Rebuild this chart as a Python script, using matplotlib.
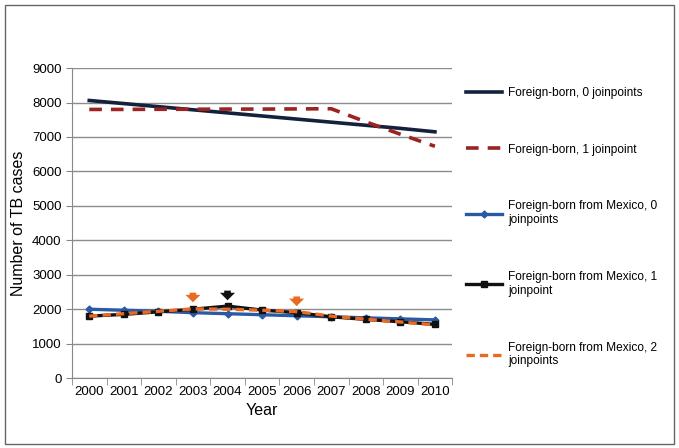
import matplotlib
matplotlib.use("Agg")
import matplotlib.pyplot as plt
from matplotlib.patches import Rectangle

plt.rcParams['font.family'] = ['Liberation Sans', 'DejaVu Sans']

# Data
years = [2000, 2001, 2002, 2003, 2004, 2005, 2006, 2007, 2008, 2009, 2010]
fb_0jp = [8060, 7970, 7880, 7790, 7700, 7610, 7520, 7430, 7340, 7250, 7150]
fb_1jp = [7800, 7800, 7805, 7805, 7810, 7810, 7815, 7820, 7440, 7080, 6730]
mex_0jp = [2000, 1970, 1940, 1900, 1870, 1840, 1810, 1780, 1750, 1720, 1690]
mex_1jp = [1800, 1850, 1925, 2000, 2090, 1975, 1900, 1780, 1705, 1635, 1560]
mex_2jp = [1800, 1870, 1940, 2010, 2000, 1970, 1930, 1800, 1710, 1630, 1545]

# joinpoint arrows: year, tip value, tail value, colour
arrow_years = [2003, 2004, 2006]
arrow_tips = [2200, 2260, 2090]
arrow_tails = [2480, 2540, 2370]
arrow_colors = ['#ea6a22', '#111111', '#ea6a22']

fig = plt.figure(figsize=(6.79, 4.48), dpi=100)
ax = fig.add_axes([0.106, 0.156, 0.56, 0.692])

x = list(range(len(years)))
ax.plot(x, fb_0jp, color='#14213d', lw=2.6, label='Foreign-born, 0 joinpoints')
ax.plot(x, fb_1jp, color='#9b2423', lw=2.6, ls=(0, (3.5, 2.5)), label='Foreign-born, 1 joinpoint')
ax.plot(x, mex_0jp, color='#2a5aa6', lw=2.4, marker='D', ms=3.5, label='Foreign-born from Mexico, 0\njoinpoints')
ax.plot(x, mex_1jp, color='#111111', lw=2.4, marker='s', ms=5, label='Foreign-born from Mexico, 1\njoinpoint')
ax.plot(x, mex_2jp, color='#ea6a22', lw=2.4, ls=(0, (2.5, 1.5)), label='Foreign-born from Mexico, 2\njoinpoints')

for yr, tip, tail, c in zip(arrow_years, arrow_tips, arrow_tails, arrow_colors):
    i = years.index(yr)
    ax.annotate('', xy=(i, tip), xytext=(i, tail),
                arrowprops=dict(arrowstyle='simple,head_width=0.9,head_length=0.45,tail_width=0.4',
                                mutation_scale=12, shrinkA=0, shrinkB=0, color=c, lw=0))

ax.set_ylim(0, 9000)
ax.set_yticks(range(0, 9001, 1000))
ax.set_xlim(-0.5, len(years) - 0.5)
ax.set_xticks(x)
ax.set_xticklabels([str(y) for y in years])
ax.set_xticks([i - 0.5 for i in range(len(years) + 1)], minor=True)
ax.tick_params(axis='x', which='major', length=0, labelsize=9.5, pad=6)
ax.tick_params(axis='x', which='minor', length=5, color='#888888')
ax.tick_params(axis='y', length=4, color='#888888', labelsize=9.5)
ax.grid(axis='y', color='#8c8c8c', lw=1)
ax.set_axisbelow(True)
for s in ['top', 'right']:
    ax.spines[s].set_visible(False)
ax.spines['left'].set_color('#888888')
ax.spines['bottom'].set_color('#888888')
ax.set_xlabel('Year', fontsize=11.5, labelpad=3)
ax.set_ylabel('Number of TB cases', fontsize=11.5)

leg = ax.legend(loc='upper left', bbox_to_anchor=(1.025, 0.955), frameon=False,
                fontsize=8.6, handlelength=3.0, handletextpad=0.5, labelspacing=3.75,
                borderaxespad=0)

fig.patches.append(Rectangle((0.008, 0.01), 0.984, 0.978, transform=fig.transFigure,
                             fill=False, edgecolor='#666666', lw=1))

fig.savefig('out.png', dpi=100)
